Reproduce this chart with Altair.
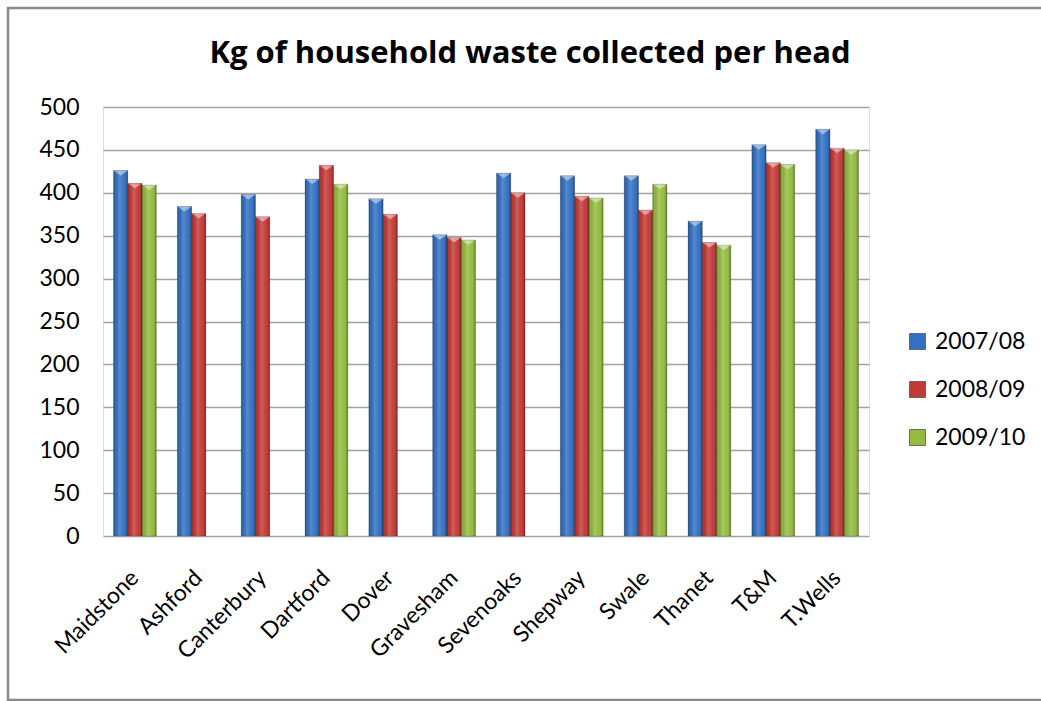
import altair as alt
import pandas as pd

# Districts and per-year kg of household waste collected per head
districts = ["Maidstone", "Ashford", "Canterbury", "Dartford", "Dover", "Gravesham",
             "Sevenoaks", "Shepway", "Swale", "Thanet", "T&M", "T.Wells"]
years = ["2007/08", "2008/09", "2009/10"]
kg_2007_08 = [426, 384, 398, 416, 393, 351, 423, 420, 420, 367, 456, 474]
kg_2008_09 = [411, 376, 372, 432, 375, 348, 400, 396, 380, 342, 435, 452]
kg_2009_10 = [409, None, None, 410, None, 345, None, 394, 410, 339, 433, 450]
y_ticks = [0, 50, 100, 150, 200, 250, 300, 350, 400, 450, 500]

series_colors = ["#3370c2", "#c23a36", "#93bb3f"]

rows = []
for year, values in zip(years, [kg_2007_08, kg_2008_09, kg_2009_10]):
    for district, v in zip(districts, values):
        if v is not None:
            rows.append({"district": district, "year": year, "kg": v})
df = pd.DataFrame(rows)

FONT = "Lato"
LABEL_SIZE = 23

x_enc = alt.X("district:N", sort=districts, title=None,
              scale=alt.Scale(paddingInner=0.33, paddingOuter=0.165),
              axis=alt.Axis(labelAngle=-45, labelAlign="right", labelBaseline="middle",
                            labelPadding=38, ticks=False, domain=False, grid=False,
                            labelFontSize=LABEL_SIZE, labelColor="#000000", labelFont=FONT))
xo_enc = alt.XOffset("year:N", sort=years, scale=alt.Scale(domain=years, paddingInner=0, paddingOuter=0))
y_enc = alt.Y("kg:Q", title=None,
              scale=alt.Scale(domain=[0, 500], nice=False),
              axis=alt.Axis(values=y_ticks, ticks=False, domain=False, grid=True,
                            gridColor="#a3a3a3", gridWidth=1.6, labelPadding=24,
                            labelFontSize=LABEL_SIZE, labelColor="#000000", labelFont=FONT))

bars = alt.Chart(df).mark_bar(stroke="#1e1e1e", strokeOpacity=0.25, strokeWidth=0.8).encode(
    x=x_enc,
    xOffset=xo_enc,
    y=y_enc,
    color=alt.Color("year:N", sort=years, title=None,
                    scale=alt.Scale(domain=years, range=series_colors),
                    legend=alt.Legend(orient="none", legendX=803, legendY=223,
                                      symbolType="square", symbolSize=256,
                                      symbolStrokeWidth=0.8, symbolStrokeColor="#555555",
                                      labelFontSize=LABEL_SIZE, labelFont=FONT, labelColor="#000000",
                                      labelOffset=6, rowPadding=24, padding=0)),
)

# Horizontal shading across each column for the bevelled look
shine = alt.Chart(df).mark_bar(
    fill=alt.Gradient(
        gradient="linear", x1=0, x2=1, y1=0, y2=0,
        stops=[
            alt.GradientStop(offset=0.0, color="rgba(0,0,0,0.28)"),
            alt.GradientStop(offset=0.12, color="rgba(0,0,0,0.05)"),
            alt.GradientStop(offset=0.4, color="rgba(255,255,255,0.18)"),
            alt.GradientStop(offset=0.75, color="rgba(255,255,255,0.02)"),
            alt.GradientStop(offset=0.9, color="rgba(0,0,0,0.12)"),
            alt.GradientStop(offset=1.0, color="rgba(0,0,0,0.35)"),
        ],
    )
).encode(x=x_enc, xOffset=xo_enc, y=y_enc)

# Light triangular facet on the top of each column
caps = alt.Chart(df).mark_point(
    shape="M -1 -0.35 L 1 -0.35 L 0 0.35 Z", filled=True, size=190,
    color="#ffffff", opacity=0.45, yOffset=2.6, strokeWidth=0
).encode(x=x_enc, xOffset=xo_enc, y=y_enc)

# Outer chart-area frame
frame = alt.Chart(pd.DataFrame({"frame": [0]})).mark_rect(
    filled=False, stroke="#8a8a8a", strokeWidth=2.5
).encode(x=alt.value(-95), x2=alt.value(960), y=alt.value(-99), y2=alt.value(593))

chart = alt.layer(bars, shine, caps, frame).properties(
    width=766, height=429,
    # the frame extends the group bounds upwards, so the title is pulled back down into it
    title=alt.TitleParams("Kg of household waste collected per head",
                          font="Open Sans", fontSize=31, fontWeight="bold", color="#000000",
                          anchor="middle", dx=44, offset=-63),
    autosize=alt.AutoSizeParams(type="none"),
    padding={"left": 103, "top": 107, "right": 172, "bottom": 165},
).configure_view(stroke="#999999", strokeWidth=1.6).configure(background="#ffffff")

chart.save("out.html", embed_options={"renderer": "svg", "actions": False})
